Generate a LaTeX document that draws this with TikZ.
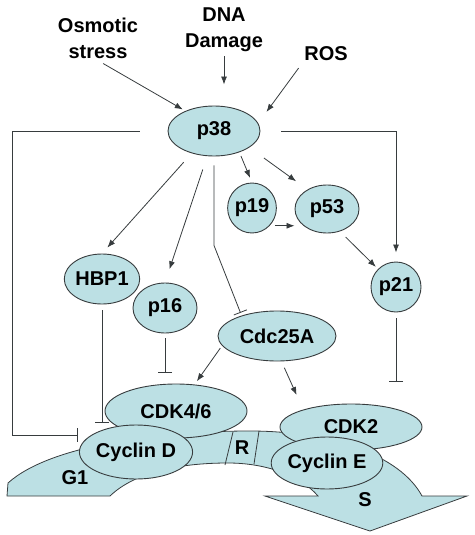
\documentclass[tikz,border=0pt]{standalone}
\usepackage{fontspec}
\setmainfont{Liberation Sans}
\usetikzlibrary{positioning,arrows.meta,shapes.geometric,calc}
\definecolor{cellblue}{RGB}{188,224,228}
\definecolor{edgegray}{RGB}{55,60,62}
\tikzset{prot/.style={ellipse,draw=edgegray,fill=cellblue,line width=0.9pt,inner sep=0pt,font=\fontsize{20}{24}\selectfont\bfseries}}
\tikzset{lbl/.style={align=center,inner sep=2pt,font=\fontsize{20}{26}\selectfont\bfseries}}
\tikzset{act/.style={-{Latex[length=8pt,width=6pt]},draw=edgegray,line width=0.8pt}}
\tikzset{inh/.style={-{Bar[width=14pt,line width=0.8pt]},draw=edgegray,line width=0.8pt}}

\begin{document}
\begin{tikzpicture}[x=1pt,y=-1pt]
	\useasboundingbox (0,0) rectangle (474,535);
	%% cell cycle band
	\filldraw[fill=cellblue,draw=edgegray,line width=0.8pt]
		(7,496) -- (8,483) .. controls (50,445) and (160,431) .. (250,431)
		.. controls (330,431) and (400,455) .. (422,496)
		-- (467,496) -- (370,531) -- (265,496) -- (318,496)
		.. controls (300,475) and (265,463) .. (228,463)
		.. controls (180,463) and (135,472) .. (110,496) -- cycle;
	\draw[edgegray,line width=0.8pt] (233,432) -- (225,465);
	\draw[edgegray,line width=0.8pt] (259,431) -- (254,464);
	\node[lbl] (rpoint) at (242,448) {R};
	\node[lbl] (gone) at (75,478) {G1};
	\node[lbl] (sphase) at (365,500) {S};

	%% stimuli
	\node[lbl] (osm) at (98,38) {Osmotic\\stress};
	\node[lbl] (dna) at (224,30) {DNA\\Damage};
	\node[lbl] (ros) at (326,54) {ROS};

	%% proteins
	\node[prot,minimum width=92pt,minimum height=50pt] (p38) at (214,131) {p38};
	\node[prot,minimum width=42pt,minimum height=50pt] (p19) at (252,208) {p19};
	\node[prot,minimum width=64pt,minimum height=48pt] (p53) at (327,209) {p53};
	\node[prot,minimum width=64pt,minimum height=50pt] (hbp1) at (102,279) {HBP1};
	\node[prot,minimum width=64pt,minimum height=50pt] (p16) at (165,308) {p16};
	\node[prot,minimum width=118pt,minimum height=50pt] (cdc) at (277,336) {Cdc25A};
	\node[prot,minimum width=50pt,minimum height=50pt] (p21) at (396,287) {p21};
	\node[prot,minimum width=142pt,minimum height=54pt] (cdk46) at (176,411) {CDK4/6};
	\node[prot,minimum width=92pt,minimum height=54pt] (cycd) at (136,452) {Cyclin D};
	\node[prot,minimum width=142pt,minimum height=46pt] (cdk2) at (351,427) {CDK2};
	\node[prot,minimum width=90pt,minimum height=52pt] (cyce) at (327,463) {Cyclin E};

	%% stimuli to p38
	\draw[act, shorten <=6pt, shorten >=3pt] (osm.south) -- (p38.145);
	\draw[act, shorten <=2pt, shorten >=21pt] (dna.south) -- (dna.south |- p38.north);
	\draw[act, shorten <=6pt, shorten >=14pt] (ros.south west) -- (p38.10);

	%% p38 targets
	\draw[act, shorten <=4pt, shorten >=5pt] (p38.-40) -- (p19.north);
	\draw[act, shorten <=18pt, shorten >=14pt] (p38.-25) -- (p53.135);
	\draw[act, shorten <=5pt] (p19.-45) -- (p19.-45 -| p53.west);
	\draw[act, shorten <=12pt, shorten >=8pt] (p38.-135) -- (hbp1.north);
	\draw[act, shorten <=14pt, shorten >=14pt] (p38.-105) -- (p16.north);
	\draw[inh, shorten <=9pt, shorten >=3pt] (p38.south) -- ++(0,89) -- (cdc.150);
	\draw[act, shorten <=8pt, shorten >=3pt] (p53.-60) -- (p21.135);
	\draw[act, shorten <=21pt, shorten >=9pt] (p38.east) -| (p21.north);
	\draw[inh, shorten <=28pt, shorten >=13pt] (p38.west) -- ++(-155,0) |- (cycd.160);

	%% inhibitors and activators of the CDKs
	\draw[inh, shorten <=6pt, shorten >=2pt] (hbp1.south) -- (hbp1.south |- cycd.north);
	\draw[inh, shorten <=5pt, shorten >=11pt] (p16.south) -- (p16.south |- cdk46.north);
	\draw[inh, shorten <=6pt, shorten >=22pt] (p21.south) -- (p21.south |- cdk2.north);
	\draw[act, shorten <=3pt, shorten >=4pt] (cdc.-170) -- (cdk46.55);
	\draw[act, shorten <=7pt, shorten >=16pt] (cdc.-80) -- (cdk2.160);

\end{tikzpicture}
\end{document}
